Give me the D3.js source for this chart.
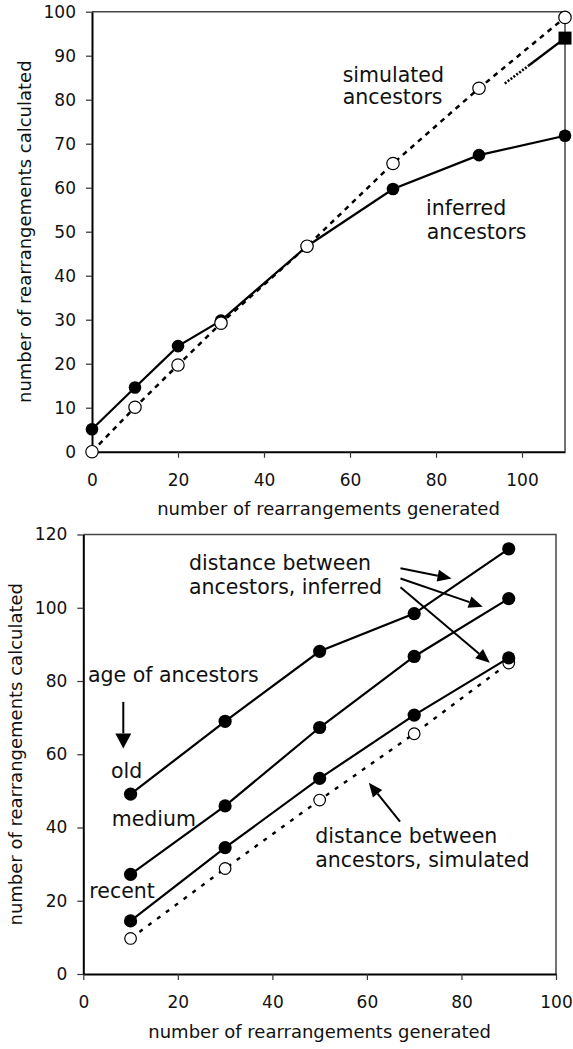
<!DOCTYPE html>
<html>
<head>
<meta charset="utf-8">
<script src="https://cdn.jsdelivr.net/npm/d3@7"></script>
<style>
    body { margin: 0; background: #fff; }
    svg { display: block; font-family: 'DejaVu Sans', Verdana, sans-serif; }
    .tickText { font-size: 17px; fill: #111; }
    .axisTitle { font-size: 18px; fill: #111; }
    .note { font-size: 20.5px; fill: #111; }
</style>
</head>
<body>
<script>
(function () {
    // Top chart: values
    var topX = [0, 10, 20, 30, 50, 70, 90, 110];
    var topInferred = [5.1, 14.6, 24.0, 29.8, 46.7, 59.7, 67.4, 71.8];
    var topSimulated = [0, 10.1, 19.7, 29.2, 46.7, 65.5, 82.6, 98.7];
    var trendX = [96, 101.5, 110]; // dotted then solid stub ending at the square
    var trendY = [83.7, 87.7, 94.0];
    var topXTicks = [0, 20, 40, 60, 80, 100];
    var topYTicks = [0, 10, 20, 30, 40, 50, 60, 70, 80, 90, 100];

    // Bottom chart
    var botX = [10, 30, 50, 70, 90];
    var botOld = [49.1, 69.0, 88.1, 98.4, 116.1];
    var botMedium = [27.2, 45.9, 67.3, 86.7, 102.5];
    var botRecent = [14.5, 34.5, 53.4, 70.7, 86.3];
    var botSimulated = [9.7, 28.8, 47.5, 65.6, 84.9];
    var botXTicks = [0, 20, 40, 60, 80, 100];
    var botYTicks = [0, 20, 40, 60, 80, 100, 120];

    var width = 573,
        height = 1049;

    var svg = d3.select('body')
        .append('svg')
        .attr('width', width)
        .attr('height', height);

    // Scales
    var xTop = d3.scaleLinear().domain([0, 110]).range([92, 565]);
    var yTop = d3.scaleLinear().domain([0, 100]).range([451.7, 11.7]);
    var xBot = d3.scaleLinear().domain([0, 100]).range([83.3, 556]);
    var yBot = d3.scaleLinear().domain([0, 120]).range([974, 534.5]);

    drawFrame(xTop, yTop, topXTicks, topYTicks);
    drawFrame(xBot, yBot, botXTicks, botYTicks);

    // ---- top chart marks ----
    var lineTop = d3.line()
        .x(function (d) { return xTop(d[0]); })
        .y(function (d) { return yTop(d[1]); });

    svg.append('path')
        .datum(d3.zip(topX, topSimulated))
        .attr('d', lineTop)
        .attr('fill', 'none')
        .attr('stroke', '#000')
        .attr('stroke-width', 2.5)
        .attr('stroke-dasharray', '5,5');

    svg.append('path')
        .datum(d3.zip(topX, topInferred))
        .attr('d', lineTop)
        .attr('fill', 'none')
        .attr('stroke', '#000')
        .attr('stroke-width', 2.2);

    var trend = d3.zip(trendX, trendY);
    svg.append('path')
        .datum(trend.slice(0, 2))
        .attr('d', lineTop)
        .attr('fill', 'none')
        .attr('stroke', '#000')
        .attr('stroke-width', 2.6)
        .attr('stroke-dasharray', '2,1.6');
    svg.append('path')
        .datum(trend.slice(1))
        .attr('d', lineTop)
        .attr('fill', 'none')
        .attr('stroke', '#000')
        .attr('stroke-width', 2.4);

    svg.selectAll('.topFilled')
        .data(d3.zip(topX, topInferred))
        .enter()
        .append('circle')
        .attr('class', 'topFilled')
        .attr('cx', function (d) { return xTop(d[0]); })
        .attr('cy', function (d) { return yTop(d[1]); })
        .attr('r', 6.3)
        .attr('fill', '#000');

    svg.selectAll('.topOpen')
        .data(d3.zip(topX, topSimulated))
        .enter()
        .append('circle')
        .attr('class', 'topOpen')
        .attr('cx', function (d) { return xTop(d[0]); })
        .attr('cy', function (d) { return yTop(d[1]); })
        .attr('r', 6.2)
        .attr('fill', '#fff')
        .attr('stroke', '#000')
        .attr('stroke-width', 1.2);

    // square at the end of the trend stub
    var last = trend[trend.length - 1];
    svg.append('rect')
        .attr('x', xTop(last[0]) - 6.5)
        .attr('y', yTop(last[1]) - 6.5)
        .attr('width', 13)
        .attr('height', 13)
        .attr('fill', '#000');

    note(342.7, 81.7, 'simulated');
    note(342.7, 104, 'ancestors');
    note(426, 215, 'inferred');
    note(426.7, 238.5, 'ancestors');

    // ---- bottom chart marks ----
    var lineBot = d3.line()
        .x(function (d) { return xBot(d[0]); })
        .y(function (d) { return yBot(d[1]); });

    svg.append('path')
        .datum(d3.zip(botX, botSimulated))
        .attr('d', lineBot)
        .attr('fill', 'none')
        .attr('stroke', '#000')
        .attr('stroke-width', 2.4)
        .attr('stroke-dasharray', '4,7');

    svg.selectAll('.botOpen')
        .data(d3.zip(botX, botSimulated))
        .enter()
        .append('circle')
        .attr('class', 'botOpen')
        .attr('cx', function (d) { return xBot(d[0]); })
        .attr('cy', function (d) { return yBot(d[1]); })
        .attr('r', 5.8)
        .attr('fill', '#fff')
        .attr('stroke', '#000')
        .attr('stroke-width', 1.2);

    [botOld, botMedium, botRecent].forEach(function (series) {
        var pts = d3.zip(botX, series);
        svg.append('path')
            .datum(pts)
            .attr('d', lineBot)
            .attr('fill', 'none')
            .attr('stroke', '#000')
            .attr('stroke-width', 2.2);
        svg.selectAll(null)
            .data(pts)
            .enter()
            .append('circle')
            .attr('cx', function (d) { return xBot(d[0]); })
            .attr('cy', function (d) { return yBot(d[1]); })
            .attr('r', 6.6)
            .attr('fill', '#000');
    });

    // annotations
    note(189, 570, 'distance between');
    note(189, 594, 'ancestors, inferred');
    note(88, 681.7, 'age of ancestors');
    note(111, 777.7, 'old');
    note(111.7, 826, 'medium');
    note(89.3, 897.7, 'recent');
    note(315.3, 843.3, 'distance between');
    note(315.3, 866.7, 'ancestors, simulated');

    arrow(xBot(67.1), yBot(110.8), xBot(77.9), yBot(108.0), 14, 12);
    arrow(xBot(67.1), yBot(108.0), xBot(84.5), yBot(100.3), 14, 12);
    arrow(xBot(67.1), yBot(105.6), xBot(86.0), yBot(85.0), 14, 12);
    arrow(xBot(67.0), yBot(41.6), xBot(60.4), yBot(52.2), 14, 12);
    arrow(xBot(8.46), yBot(74.3), xBot(8.46), yBot(61.6), 15, 16);

    // Plot box, axes, tick labels and axis titles
    function drawFrame(x, y, xTicks, yTicks) {
        var x0 = x.range()[0], x1 = x.range()[1],
            y0 = y.range()[0], y1 = y.range()[1];

        // top and right border of the plot area
        svg.append('path')
            .attr('d', 'M' + x0 + ',' + y1 + 'H' + x1 + 'V' + y0)
            .attr('fill', 'none')
            .attr('stroke', '#444')
            .attr('stroke-width', 1.5);

        var xAxis = d3.axisBottom(x)
            .tickValues(xTicks)
            .tickSize(6)
            .tickSizeOuter(0)
            .tickPadding(16);

        var yAxis = d3.axisLeft(y)
            .tickValues(yTicks)
            .tickSize(6)
            .tickSizeOuter(0)
            .tickPadding(10);

        var gx = svg.append('g')
            .attr('transform', 'translate(0,' + y0 + ')')
            .call(xAxis);
        var gy = svg.append('g')
            .attr('transform', 'translate(' + x0 + ',0)')
            .call(yAxis);

        [gx, gy].forEach(function (g) {
            g.select('.domain').attr('stroke', '#000').attr('stroke-width', 2);
            g.selectAll('.tick line').attr('stroke', '#333').attr('stroke-width', 1.2);
            g.selectAll('.tick text')
                .attr('class', 'tickText')
                .attr('font-family', null)
                .attr('font-size', null)
                .attr('fill', null);
            g.attr('font-family', null).attr('font-size', null);
        });

        svg.append('text')
            .attr('class', 'axisTitle')
            .attr('x', (x0 + x1) / 2)
            .attr('y', y0 + 63.5)
            .attr('text-anchor', 'middle')
            .text('number of rearrangements generated');

        svg.append('text')
            .attr('class', 'axisTitle')
            .attr('transform', 'translate(' + (x0 - 61) + ',' + ((y0 + y1) / 2) + ') rotate(-90)')
            .attr('text-anchor', 'middle')
            .text('number of rearrangements calculated');
    }

    function note(xp, yp, txt) {
        svg.append('text')
            .attr('class', 'note')
            .attr('x', xp)
            .attr('y', yp)
            .text(txt);
    }

    // line with a filled triangular head at (x2, y2)
    function arrow(x1, y1, x2, y2, headLen, headWidth) {
        var ang = Math.atan2(y2 - y1, x2 - x1);
        var bx = x2 - headLen * Math.cos(ang),
            by = y2 - headLen * Math.sin(ang);
        var px = -Math.sin(ang) * headWidth / 2,
            py = Math.cos(ang) * headWidth / 2;

        svg.append('line')
            .attr('x1', x1)
            .attr('y1', y1)
            .attr('x2', bx)
            .attr('y2', by)
            .attr('stroke', '#000')
            .attr('stroke-width', 2);

        svg.append('path')
            .attr('d', 'M' + x2 + ',' + y2 +
                'L' + (bx + px) + ',' + (by + py) +
                'L' + (bx - px) + ',' + (by - py) + 'Z')
            .attr('fill', '#000');
    }
})();
</script>
</body>
</html>
